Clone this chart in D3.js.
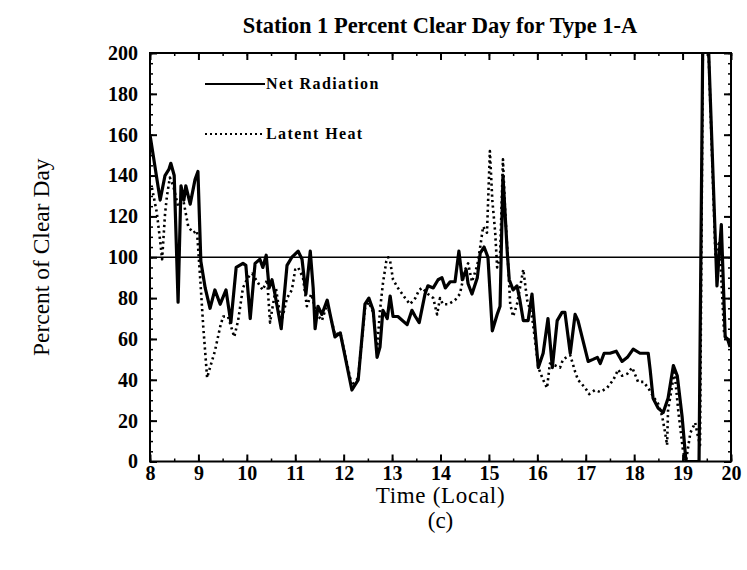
<!DOCTYPE html>
<html>
<head>
<meta charset="utf-8">
<script src="https://cdn.jsdelivr.net/npm/d3@7"></script>
<style>
  html, body { margin: 0; padding: 0; background: #fff; }
  svg { display: block; }
  .serif { font-family: "Liberation Serif", "DejaVu Serif", serif; }
</style>
</head>
<body>
<svg id="chart" width="747" height="570"></svg>
<script>
// Net radiation, percent of clear day (time in local hours)
const netTime = [8.00, 8.21, 8.31, 8.39, 8.43, 8.50, 8.58, 8.64, 8.70, 8.74, 8.83, 8.93, 8.99,
  9.05, 9.14, 9.24, 9.34, 9.45, 9.57, 9.67, 9.78, 9.92, 9.98, 10.07, 10.17, 10.27, 10.33, 10.40,
  10.46, 10.52, 10.58, 10.71, 10.83, 10.93, 11.06, 11.14, 11.22, 11.31, 11.37, 11.41, 11.47, 11.55,
  11.66, 11.72, 11.82, 11.93, 12.17, 12.30, 12.44, 12.52, 12.61, 12.69, 12.75, 12.81, 12.90, 12.96,
  13.02, 13.12, 13.31, 13.41, 13.48, 13.56, 13.68, 13.74, 13.85, 13.95, 14.03, 14.10, 14.20, 14.30,
  14.38, 14.45, 14.53, 14.57, 14.65, 14.76, 14.82, 14.90, 14.98, 15.07, 15.17, 15.23, 15.29, 15.38,
  15.42, 15.50, 15.58, 15.64, 15.71, 15.81, 15.89, 16.02, 16.12, 16.22, 16.31, 16.41, 16.51, 16.57,
  16.68, 16.78, 16.84, 17.05, 17.15, 17.24, 17.30, 17.38, 17.50, 17.63, 17.75, 17.86, 17.98, 18.12,
  18.29, 18.33, 18.39, 18.50, 18.60, 18.70, 18.81, 18.89, 18.99, 19.07, 19.34, 19.43, 19.48, 19.71,
  19.80, 19.88, 19.93, 19.98];
const netValue = [160, 128, 140, 143, 146, 140, 78, 135, 128, 135, 126, 138, 142,
  98, 85, 75, 84, 77, 84, 68, 95, 97, 96, 70, 97, 99, 95, 101,
  85, 89, 82, 65, 96, 100, 103, 99, 82, 103, 85, 65, 76, 72,
  79, 72, 61, 63, 35, 40, 77, 80, 74, 51, 56, 74, 70, 81,
  71, 71, 67, 74, 71, 68, 82, 86, 85, 89, 90, 85, 88, 88,
  103, 89, 94, 87, 82, 90, 102, 105, 100, 64, 72, 76, 140, 102,
  89, 84, 86, 79, 69, 69, 82, 46, 53, 70, 46, 69, 73, 73,
  53, 72, 69, 49, 50, 51, 48, 53, 53, 54, 49, 51, 55, 53,
  53, 45, 31, 26, 24, 31, 47, 42, 22, 0, 0, 240, 240, 86,
  116, 61, 60, 56];

// Latent heat, percent of clear day
const latentTime = [8.04, 8.14, 8.21, 8.25, 8.31, 8.35, 8.41, 8.48, 8.58, 8.68, 8.79, 8.89, 8.97,
  9.03, 9.10, 9.18, 9.24, 9.34, 9.45, 9.51, 9.61, 9.74, 9.82, 9.92, 10.02, 10.11, 10.27, 10.33,
  10.42, 10.48, 10.52, 10.60, 10.71, 10.83, 10.93, 11.00, 11.06, 11.16, 11.24, 11.33, 11.45, 11.55,
  11.66, 11.72, 11.82, 11.93, 12.17, 12.30, 12.44, 12.52, 12.61, 12.69, 12.75, 12.81, 12.88, 12.92,
  12.96, 13.02, 13.12, 13.27, 13.37, 13.48, 13.56, 13.62, 13.74, 13.85, 13.93, 13.99, 14.05, 14.16,
  14.30, 14.40, 14.51, 14.57, 14.65, 14.76, 14.82, 14.88, 14.96, 15.02, 15.07, 15.13, 15.17, 15.23,
  15.29, 15.33, 15.40, 15.44, 15.50, 15.58, 15.71, 15.79, 15.89, 15.95, 16.02, 16.12, 16.20, 16.26,
  16.37, 16.47, 16.53, 16.68, 16.78, 16.84, 16.99, 17.07, 17.19, 17.30, 17.44, 17.57, 17.67, 17.75,
  17.86, 17.96, 18.08, 18.19, 18.29, 18.39, 18.50, 18.58, 18.64, 18.68, 18.70, 18.79, 18.83, 18.91,
  19.01, 19.07, 19.16, 19.26, 19.32, 19.36, 19.43, 19.48, 19.68, 19.76, 19.86, 19.98];
const latentValue = [134, 122, 108, 99, 121, 130, 139, 135, 125, 129, 115, 112, 113,
  92, 66, 41, 46, 54, 66, 71, 71, 61, 69, 85, 90, 92, 86, 84,
  89, 68, 74, 85, 68, 80, 84, 94, 95, 90, 76, 82, 72, 69,
  77, 72, 62, 63, 37, 41, 75, 78, 73, 55, 74, 87, 98, 100,
  98, 89, 85, 80, 77, 80, 84, 85, 82, 80, 72, 80, 77, 77,
  79, 82, 94, 97, 88, 96, 105, 115, 112, 152, 128, 112, 95, 100,
  148, 125, 95, 77, 71, 77, 94, 79, 71, 60, 46, 40, 36, 48,
  47, 46, 50, 52, 44, 40, 36, 33, 35, 34, 36, 40, 45, 42,
  43, 46, 39, 39, 36, 32, 28, 22, 14, 8, 25, 38, 45, 25,
  5, 0, 14, 19, 12, 8, 240, 240, 100, 108, 62, 58];

const xTicks = [8, 9, 10, 11, 12, 13, 14, 15, 16, 17, 18, 19, 20];
const yTicks = [0, 20, 40, 60, 80, 100, 120, 140, 160, 180, 200];
const legendLabels = ["Net Radiation", "Latent Heat"];

const svg = d3.select("#chart");
const plotLeft = 150, plotRight = 731, plotTop = 53, plotBottom = 461.5;

const x = d3.scaleLinear().domain([8, 20]).range([plotLeft, plotRight]);
const y = d3.scaleLinear().domain([0, 200]).range([plotBottom, plotTop]);

svg.append("defs").append("clipPath").attr("id", "plotClip")
  .append("rect").attr("x", plotLeft).attr("y", plotTop)
  .attr("width", plotRight - plotLeft).attr("height", plotBottom - plotTop);

// Title
svg.append("text").attr("class", "serif")
  .attr("x", 440).attr("y", 33).attr("text-anchor", "middle")
  .attr("font-size", 22.5).attr("font-weight", "bold")
  .text("Station 1 Percent Clear Day for Type 1-A");

// Minor ticks (inward) on all four sides
const minorX = d3.range(8, 20.01, 0.5);
const minorY = d3.range(0, 200.01, 5);
function minorAxis(axis, scale, vals, transform) {
  svg.append("g").attr("transform", transform)
    .call(axis(scale).tickValues(vals).tickSize(-3).tickFormat(""))
    .call(g => g.select(".domain").remove())
    .call(g => g.selectAll("line").attr("stroke", "#000").attr("stroke-width", 1.5));
}
minorAxis(d3.axisBottom, x, minorX, `translate(0,${plotBottom})`);
minorAxis(d3.axisTop, x, minorX, `translate(0,${plotTop})`);
minorAxis(d3.axisLeft, y, minorY, `translate(${plotLeft},0)`);
minorAxis(d3.axisRight, y, minorY, `translate(${plotRight},0)`);

// Major ticks on top and right
svg.append("g").attr("transform", `translate(0,${plotTop})`)
  .call(d3.axisTop(x).tickValues(xTicks).tickSize(-7).tickFormat(""))
  .call(g => g.select(".domain").remove())
  .call(g => g.selectAll("line").attr("stroke", "#000").attr("stroke-width", 2));
svg.append("g").attr("transform", `translate(${plotRight},0)`)
  .call(d3.axisRight(y).tickValues(yTicks).tickSize(-7).tickFormat(""))
  .call(g => g.select(".domain").remove())
  .call(g => g.selectAll("line").attr("stroke", "#000").attr("stroke-width", 2));

// Labelled bottom and left axes
svg.append("g").attr("transform", `translate(0,${plotBottom})`)
  .call(d3.axisBottom(x).tickValues(xTicks).tickSize(-7).tickPadding(4.5).tickFormat(d3.format("d")))
  .call(g => g.select(".domain").remove())
  .call(g => g.selectAll("line").attr("stroke", "#000").attr("stroke-width", 2))
  .call(g => g.selectAll("text").attr("class", "serif").attr("font-size", 20)
    .attr("font-weight", "bold").attr("fill", "#000"));
svg.append("g").attr("transform", `translate(${plotLeft},0)`)
  .call(d3.axisLeft(y).tickValues(yTicks).tickSize(-7).tickPadding(12).tickFormat(d3.format("d")))
  .call(g => g.select(".domain").remove())
  .call(g => g.selectAll("line").attr("stroke", "#000").attr("stroke-width", 2))
  .call(g => g.selectAll("text").attr("class", "serif").attr("font-size", 20)
    .attr("font-weight", "bold").attr("fill", "#000"));

// Frame
svg.append("rect").attr("x", plotLeft).attr("y", plotTop)
  .attr("width", plotRight - plotLeft).attr("height", plotBottom - plotTop)
  .attr("fill", "none").attr("stroke", "#000").attr("stroke-width", 2);

// 100 % reference line
svg.append("line")
  .attr("x1", plotLeft).attr("x2", plotRight).attr("y1", y(100)).attr("y2", y(100))
  .attr("stroke", "#000").attr("stroke-width", 1.5);

const line = d3.line().x(d => x(d[0])).y(d => y(d[1]));
const plot = svg.append("g").attr("clip-path", "url(#plotClip)");

plot.append("path")
  .datum(d3.zip(latentTime, latentValue))
  .attr("d", line).attr("fill", "none").attr("stroke", "#000")
  .attr("stroke-width", 2.6).attr("stroke-dasharray", "2.2,3.3")
  .attr("stroke-linejoin", "round");

plot.append("path")
  .datum(d3.zip(netTime, netValue))
  .attr("d", line).attr("fill", "none").attr("stroke", "#000")
  .attr("stroke-width", 3.2).attr("stroke-linejoin", "round");

// Legend
const legend = svg.append("g");
legend.append("line").attr("x1", 205).attr("x2", 265).attr("y1", 84).attr("y2", 84)
  .attr("stroke", "#000").attr("stroke-width", 2);
legend.append("line").attr("x1", 205).attr("x2", 265).attr("y1", 134).attr("y2", 134)
  .attr("stroke", "#000").attr("stroke-width", 2.2).attr("stroke-dasharray", "2,3");
legend.selectAll("text.leg").data(legendLabels).join("text")
  .attr("class", "serif").attr("x", 266).attr("y", (d, i) => 89 + i * 50)
  .attr("font-size", 16).attr("font-weight", "bold").attr("letter-spacing", 1.4)
  .text(d => d);

// Axis titles
svg.append("text").attr("class", "serif")
  .attr("x", x(14)).attr("y", 503).attr("text-anchor", "middle")
  .attr("font-size", 23).attr("letter-spacing", 0.7).text("Time (Local)");
svg.append("text").attr("class", "serif")
  .attr("x", x(14)).attr("y", 528).attr("text-anchor", "middle")
  .attr("font-size", 23).text("(c)");
svg.append("text").attr("class", "serif")
  .attr("transform", `translate(49,${(plotTop + plotBottom) / 2}) rotate(-90)`)
  .attr("text-anchor", "middle").attr("font-size", 23.5)
  .text("Percent of Clear Day");
</script>
</body>
</html>
